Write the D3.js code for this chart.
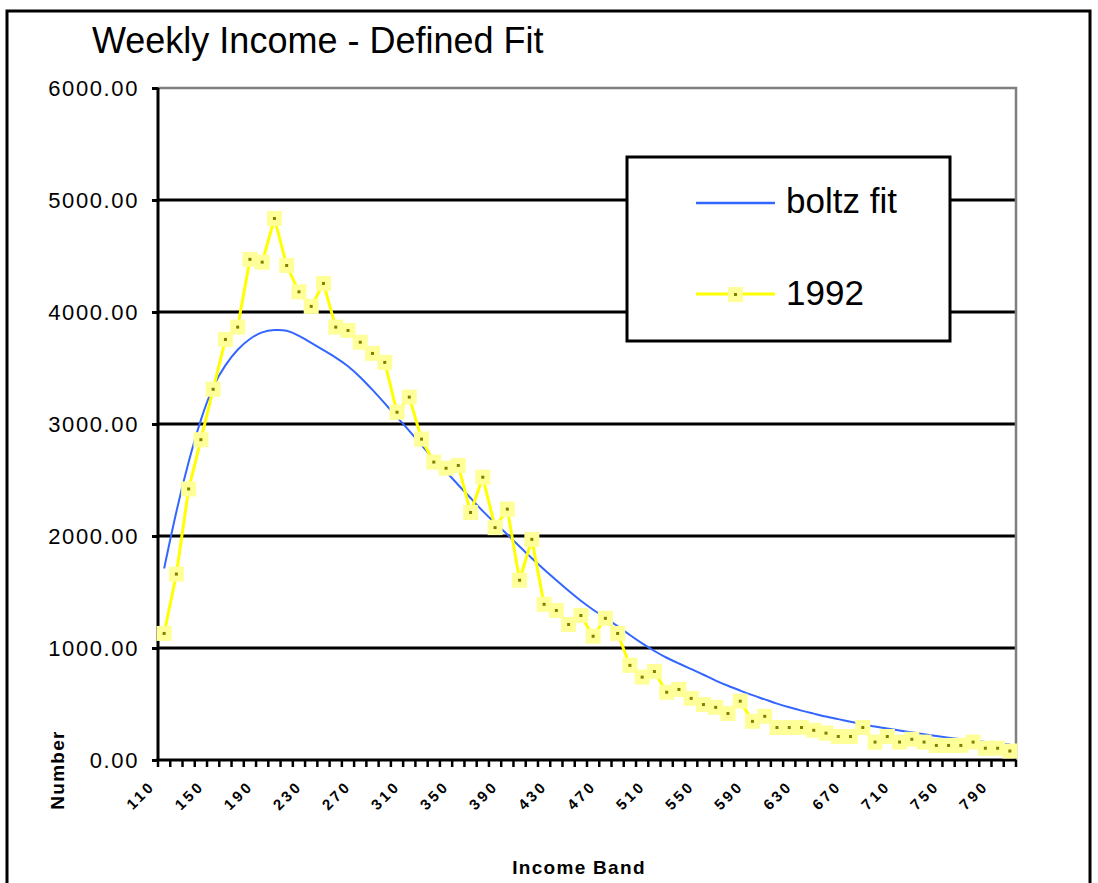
<!DOCTYPE html>
<html>
<head>
<meta charset="utf-8">
<script src="https://cdn.jsdelivr.net/npm/d3@7"></script>
<style>
  body { margin: 0; background: #fff; }
  text { font-family: "Liberation Sans", Arial, sans-serif; }
</style>
</head>
<body>
<div id="chart"></div>
<script>
// income bands (category axis)
const bands = [
  "110","120","130","140","150","160","170","180","190","200",
  "210","220","230","240","250","260","270","280","290","300",
  "310","320","330","340","350","360","370","380","390","400",
  "410","420","430","440","450","460","470","480","490","500",
  "510","520","530","540","550","560","570","580","590","600",
  "610","620","630","640","650","660","670","680","690","700",
  "710","720","730","740","750","760","770","780","790","800"
];
const yTicks = [0, 1000, 2000, 3000, 4000, 5000, 6000];

// boltz fit
const boltzFit = [
  1710, 2230, 2670, 3050, 3350, 3530, 3670, 3765, 3825, 3842,
  3840, 3790, 3725, 3660, 3595, 3520, 3420, 3305, 3185, 3060,
  2940, 2810, 2685, 2575, 2455, 2340, 2220, 2115, 2015, 1905,
  1800, 1700, 1605, 1510, 1420, 1340, 1270, 1195, 1115, 1040,
  972, 911, 862, 812, 762, 708, 662, 620, 578, 542,
  502, 470, 440, 414, 387, 365, 342, 320, 298, 280,
  264, 247, 230, 214, 199, 186, 173, 161, 150, 140
];

// 1992
const data1992 = [
  1130, 1660, 2420, 2860, 3310, 3755, 3865, 4470, 4445, 4835,
  4415, 4180, 4050, 4255, 3865, 3835, 3730, 3630, 3550, 3105,
  3240, 2865, 2660, 2605, 2630, 2210, 2525, 2075, 2240, 1605,
  1970, 1390, 1335, 1210, 1290, 1105, 1265, 1130, 845, 740,
  790, 605, 630, 550, 495, 470, 415, 525, 345, 390,
  290, 290, 290, 265, 240, 210, 210, 290, 160, 210,
  160, 185, 160, 130, 130, 130, 160, 105, 105, 80
];

const W = 1098, H = 883;
const plot = { left: 158, right: 1016, top: 88, bottom: 760 };

const svg = d3.select("#chart").append("svg")
  .attr("width", W).attr("height", H);

// outer frame
svg.append("rect")
  .attr("x", 7).attr("y", 11).attr("width", 1083).attr("height", 890)
  .attr("fill", "#fff").attr("stroke", "#000").attr("stroke-width", 3);

const x = d3.scaleBand().domain(bands).range([plot.left, plot.right]);
const y = d3.scaleLinear().domain([0, 6000]).range([plot.bottom, plot.top]);
const cx = d => x(d) + x.bandwidth() / 2;

// gridlines
svg.append("g").selectAll("line")
  .data(yTicks.filter(v => v > 0 && v < 6000)).enter().append("line")
  .attr("x1", plot.left).attr("x2", plot.right)
  .attr("y1", d => y(d)).attr("y2", d => y(d))
  .attr("stroke", "#000").attr("stroke-width", 3);

// grey plot border (top + right)
svg.append("path")
  .attr("d", `M${plot.left},${y(6000)} H${plot.right} V${plot.bottom}`)
  .attr("fill", "none").attr("stroke", "#808080").attr("stroke-width", 2.5);

// y axis
const yAxis = svg.append("g")
  .attr("transform", `translate(${plot.left},0)`)
  .call(d3.axisLeft(y).tickValues(yTicks).tickSize(6).tickPadding(13)
    .tickFormat(d3.format(".2f")));
yAxis.select(".domain").attr("stroke", "#000").attr("stroke-width", 3)
  .attr("d", `M0,${plot.top} V${plot.bottom}`);
yAxis.selectAll(".tick line").attr("stroke", "#000").attr("stroke-width", 3);
yAxis.selectAll(".tick text")
  .style("font-size", "22px").style("letter-spacing", "1.6px")
  .attr("fill", "#000").attr("dy", "0.36em");

// x axis: labels every 4th band
const xAxis = svg.append("g")
  .attr("transform", `translate(0,${plot.bottom})`)
  .call(d3.axisBottom(x).tickValues(bands.filter((d, i) => i % 4 === 0)).tickSize(0));
xAxis.select(".domain").remove();
xAxis.selectAll(".tick text")
  .attr("text-anchor", "end")
  .attr("transform", "translate(-8,27) rotate(-45)")
  .attr("x", 0).attr("y", 0).attr("dy", 0)
  .style("font-size", "15px").style("font-weight", "bold").style("letter-spacing", "3px")
  .attr("fill", "#000");

// category boundary ticks
svg.append("g").selectAll("line")
  .data(bands.concat(["__end"])).enter().append("line")
  .attr("x1", d => d === "__end" ? plot.right : x(d))
  .attr("x2", d => d === "__end" ? plot.right : x(d))
  .attr("y1", plot.bottom).attr("y2", plot.bottom + 7)
  .attr("stroke", "#000").attr("stroke-width", 2.5);

svg.append("line")
  .attr("x1", plot.left - 1.5).attr("x2", plot.right)
  .attr("y1", plot.bottom).attr("y2", plot.bottom)
  .attr("stroke", "#000").attr("stroke-width", 3);

// boltz fit line
const line = d3.line().x((d, i) => cx(bands[i])).y(d => y(d)).curve(d3.curveBasis);
svg.append("path").datum(boltzFit)
  .attr("d", line).attr("fill", "none")
  .attr("stroke", "#3366ff").attr("stroke-width", 2);

// 1992 series
const line92 = d3.line().x((d, i) => cx(bands[i])).y(d => y(d));
svg.append("path").datum(data1992)
  .attr("d", line92).attr("fill", "none")
  .attr("stroke", "#ffff00").attr("stroke-width", 3);

const mk = svg.append("g").selectAll("g").data(data1992).enter().append("g")
  .attr("transform", (d, i) => `translate(${cx(bands[i])},${y(d)})`);
mk.append("rect").attr("x", -7.5).attr("y", -7.5).attr("width", 15).attr("height", 15)
  .attr("fill", "#ffff99");
mk.append("rect").attr("x", -1.5).attr("y", -1.5).attr("width", 3).attr("height", 3)
  .attr("fill", "#808000");

// legend
const lg = svg.append("g");
lg.append("rect").attr("x", 627).attr("y", 157).attr("width", 323).attr("height", 184)
  .attr("fill", "#fff").attr("stroke", "#000").attr("stroke-width", 3);
lg.append("line").attr("x1", 696).attr("x2", 775).attr("y1", 203).attr("y2", 203)
  .attr("stroke", "#3366ff").attr("stroke-width", 2.5);
lg.append("text").attr("x", 786).attr("y", 213).text("boltz fit")
  .style("font-size", "35px").attr("fill", "#000");
lg.append("line").attr("x1", 696).attr("x2", 775).attr("y1", 294).attr("y2", 294)
  .attr("stroke", "#ffff00").attr("stroke-width", 3);
lg.append("rect").attr("x", 728).attr("y", 287).attr("width", 15).attr("height", 15)
  .attr("fill", "#ffff99");
lg.append("rect").attr("x", 734).attr("y", 293).attr("width", 3).attr("height", 3)
  .attr("fill", "#808000");
lg.append("text").attr("x", 786).attr("y", 305).text("1992")
  .style("font-size", "35px").attr("fill", "#000");

// titles
svg.append("text").attr("x", 92).attr("y", 53).text("Weekly Income - Defined Fit")
  .style("font-size", "36px").attr("fill", "#000");
svg.append("text").attr("x", 579).attr("y", 874).attr("text-anchor", "middle")
  .text("Income Band")
  .style("font-size", "19px").style("font-weight", "bold").style("letter-spacing", "1.3px");
svg.append("text").attr("transform", "translate(64,770) rotate(-90)")
  .attr("text-anchor", "middle").text("Number")
  .style("font-size", "19px").style("font-weight", "bold").style("letter-spacing", "1.3px");
</script>
</body>
</html>
